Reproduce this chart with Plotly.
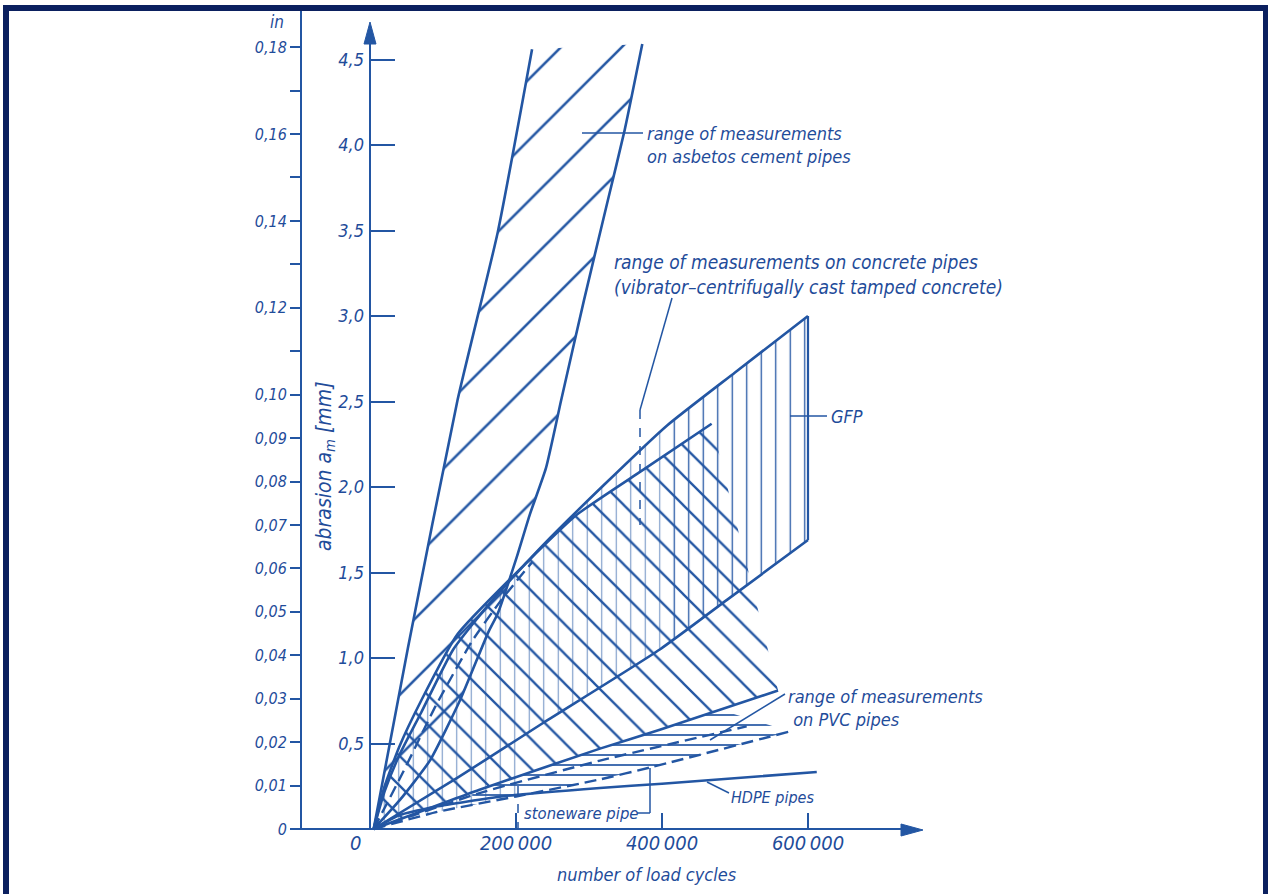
import numpy as np
import plotly.graph_objects as go

# ---------------- data (x: thousands of load cycles, y: abrasion a_m in mm) -------------
asb_left_x = [5, 52, 120, 175, 222]
asb_left_y = [0, 1.06, 2.51, 3.49, 4.56]
asb_right_x = [5, 41, 82, 123, 162, 175, 201, 219, 241, 262, 293, 326, 349, 373]
asb_right_y = [0, 0.17, 0.40, 0.75, 1.15, 1.26, 1.59, 1.84, 2.11, 2.51, 3.09, 3.68, 4.09, 4.59]

gfp_up_x = [5, 20, 40, 70, 114, 170, 237, 320, 407, 500, 600]
gfp_up_y = [0, 0.22, 0.43, 0.68, 1.05, 1.35, 1.66, 2.01, 2.36, 2.67, 3.00]
gfp_low_x = [5, 120, 237, 397, 489, 600]
gfp_low_y = [0, 0.30, 0.62, 1.05, 1.34, 1.69]

conc_up_x = [5, 20, 40, 70, 120, 215, 284, 374, 468]
conc_up_y = [0, 0.25, 0.48, 0.75, 1.14, 1.56, 1.84, 2.10, 2.37]
conc_low_x = [5, 150, 315, 397, 559]
conc_low_y = [0, 0.23, 0.47, 0.58, 0.81]
conc_dash_x = [5, 45, 90, 140, 180, 222]
conc_dash_y = [0, 0.33, 0.72, 1.10, 1.34, 1.56]

pvc_up_x = [5, 150, 315, 516]
pvc_up_y = [0, 0.21, 0.40, 0.60]
pvc_low_x = [5, 92, 200, 315, 384, 575]
pvc_low_y = [0, 0.10, 0.19, 0.29, 0.36, 0.57]

hdpe_x = [5, 40, 90, 180, 315, 400, 612]
hdpe_y = [0, 0.08, 0.13, 0.19, 0.24, 0.265, 0.333]

x_tick_vals = [0, 200, 400, 600]
x_tick_text = ["0&nbsp;&nbsp;&nbsp;&nbsp;&nbsp;", "200\u2009000", "400\u2009000", "600\u2009000"]
mm_tick_vals = [0.5, 1.0, 1.5, 2.0, 2.5, 3.0, 3.5, 4.0, 4.5]
mm_tick_text = ["0,5", "1,0", "1,5", "2,0", "2,5", "3,0", "3,5", "4,0", "4,5"]
in_tick_vals = [0, 0.01, 0.02, 0.03, 0.04, 0.05, 0.06, 0.07, 0.08, 0.09, 0.10,
                0.12, 0.14, 0.16, 0.18]
in_tick_text = ["0", "0,01", "0,02", "0,03", "0,04", "0,05", "0,06", "0,07", "0,08", "0,09",
                "0,10", "0,12", "0,14", "0,16", "0,18"]
in_minor_vals = [0.11, 0.13, 0.15, 0.17]

# ---------------- style -------------
BLUE = "#2356a3"
TEXT = "#1f4c9a"
FRAME = "#0b205f"
FONT = "Liberation Sans Narrow, DejaVu Sans Condensed, Roboto Condensed, Liberation Sans, sans-serif"
W, H = 1268, 894
X0, KX = 370, 0.73      # pixel of x=0, pixels per 1000 cycles
Y0, KY = 829, 171       # pixel of y=0, pixels per mm
x_range = [(0 - X0) / KX, (W - X0) / KX]
y_range = [(Y0 - H) / KY, Y0 / KY]


def dx(px):
    return (px - X0) / KX


def dy(py):
    return (Y0 - py) / KY


def seg(xs, ys, lo, hi):
    """part of a boundary between lo and hi (x), with end points on the curve"""
    xs = np.asarray(xs, float)
    ys = np.asarray(ys, float)
    inner = (xs > lo) & (xs < hi)
    px = np.concatenate([[lo], xs[inner], [hi]])
    py = np.interp(px, xs, ys)
    return list(px), list(py)


def region(ux, uy, lx, ly):
    return list(ux) + list(lx)[::-1], list(uy) + list(ly)[::-1]


fig = go.Figure()


def hatch(x, y, shape, size, solidity, opacity=1.0):
    fig.add_trace(go.Scatter(
        x=x, y=y, mode="lines", fill="toself", line=dict(width=0),
        fillcolor="rgba(0,0,0,0)",
        fillpattern=dict(shape=shape, size=size, solidity=solidity, fgcolor=BLUE,
                         bgcolor="rgba(0,0,0,0)", fgopacity=opacity),
        hoverinfo="skip", showlegend=False))


# asbestos cement: "/" hatch
hatch(*region(asb_left_x, asb_left_y, asb_right_x, asb_right_y), "/", 43, 0.06)
# concrete (tamped): "\" hatch
hatch(*region(conc_up_x, conc_up_y, conc_low_x, conc_low_y), "\\", 21, 0.11)
# vibrator / centrifugally cast concrete part: light vertical hatch
ux, uy = seg(gfp_up_x, gfp_up_y, 5, 407)
mx, my = seg(gfp_low_x, gfp_low_y, 200, 407)
lx, ly = seg(pvc_low_x, pvc_low_y, 5, 200)
hatch(ux + mx[::-1] + lx[::-1], uy + my[::-1] + ly[::-1], "|", 14.5, 0.08, 0.6)
# GFP: vertical hatch
ux, uy = seg(gfp_up_x, gfp_up_y, 407, 600)
lx, ly = seg(gfp_low_x, gfp_low_y, 407, 600)
hatch(*region(ux, uy, lx, ly), "|", 14.5, 0.09)
# PVC: horizontal hatch
ux, uy = seg(conc_low_x, conc_low_y, 140, 480)
lx, ly = seg(pvc_low_x, pvc_low_y, 140, 575)
hatch(*region(ux, uy, lx, ly), "-", 10, 0.17)


def curve(x, y, width=2.6, dash="solid"):
    fig.add_trace(go.Scatter(x=x, y=y, mode="lines", line=dict(color=BLUE, width=width, dash=dash,
                                                                shape="spline", smoothing=0.5),
                             hoverinfo="skip", showlegend=False))


curve(asb_left_x, asb_left_y)
curve(asb_right_x, asb_right_y)
curve(gfp_up_x, gfp_up_y)
curve(gfp_low_x, gfp_low_y)
curve([gfp_up_x[-1], gfp_low_x[-1]], [gfp_up_y[-1], gfp_low_y[-1]], width=2.2)
curve(conc_up_x, conc_up_y)
curve(conc_low_x, conc_low_y)
curve(conc_dash_x, conc_dash_y, width=2.4, dash="12px,6px")
curve(pvc_up_x, pvc_up_y, width=2.4, dash="12px,6px")
curve(pvc_low_x, pvc_low_y, width=2.4, dash="12px,6px")
curve(hdpe_x, hdpe_y, width=2.6)

fig.update_layout(
    width=W, height=H, margin=dict(l=0, r=0, t=0, b=0),
    plot_bgcolor="white", paper_bgcolor="white", showlegend=False,
    xaxis=dict(domain=[0, 1], range=x_range, showgrid=False, zeroline=False, showline=False,
               anchor="free", position=(H - Y0) / H,
               tickvals=x_tick_vals, ticktext=["<i>%s</i>" % t for t in x_tick_text],
               ticks="inside", ticklen=16, tickwidth=1.6, tickcolor=BLUE,
               tickfont=dict(family=FONT, size=20, color=TEXT)),
    yaxis=dict(domain=[0, 1], range=y_range, showgrid=False, zeroline=False, showline=False,
               anchor="free", position=X0 / W, ticklabelstandoff=6,
               tickvals=mm_tick_vals, ticktext=["<i>%s</i>" % t for t in mm_tick_text],
               ticks="inside", ticklen=24, tickwidth=1.8, tickcolor=BLUE,
               tickfont=dict(family=FONT, size=18, color=TEXT)),
    yaxis2=dict(overlaying="y", range=[y_range[0] / 25.4, y_range[1] / 25.4],
                showgrid=False, zeroline=False, showline=False,
                anchor="free", position=301 / W, side="left",
                tickvals=in_tick_vals, ticktext=["<i>%s</i>" % t for t in in_tick_text],
                ticks="outside", ticklen=11, tickwidth=1.6, tickcolor=BLUE,
                minor=dict(tickvals=in_minor_vals, ticks="outside", ticklen=11, tickwidth=1.6,
                           tickcolor=BLUE, showgrid=False),
                tickfont=dict(family=FONT, size=16, color=TEXT)),
)
fig.add_trace(go.Scatter(x=[None], y=[None], yaxis="y2", showlegend=False, hoverinfo="skip"))

# axis lines with filled arrow heads (decoration, placed in pixels)
fig.add_shape(type="line", xref="x", yref="y", x0=0, x1=0, y0=0, y1=dy(40),
              line=dict(color=BLUE, width=2))
fig.add_shape(type="path", xref="x", yref="y", fillcolor=BLUE, line=dict(color=BLUE, width=1),
              path="M %f,%f L %f,%f L %f,%f Z" % (dx(370), dy(22), dx(364), dy(44), dx(376), dy(44)))
fig.add_shape(type="line", xref="x", yref="y", x0=dx(290), x1=dx(905), y0=0, y1=0,
              line=dict(color=BLUE, width=2))
fig.add_shape(type="path", xref="x", yref="y", fillcolor=BLUE, line=dict(color=BLUE, width=1),
              path="M %f,%f L %f,%f L %f,%f Z" % (dx(923), dy(830), dx(901), dy(824), dx(901), dy(836)))
fig.add_shape(type="line", xref="paper", yref="y", x0=301 / W, x1=301 / W, y0=0, y1=dy(10),
              line=dict(color=BLUE, width=2))
# frame
fig.add_shape(type="rect", xref="paper", yref="paper", x0=6 / W, x1=1266 / W, y0=-0.05,
              y1=(H - 8) / H, line=dict(color=FRAME, width=6))


def note(txt, x, y, size=18, xanchor="left", yanchor="middle", align="left", angle=0):
    fig.add_annotation(x=x, y=y, xref="x", yref="y", text=txt, showarrow=False,
                       xanchor=xanchor, yanchor=yanchor, align=align, textangle=angle,
                       font=dict(family=FONT, size=size, color=TEXT))


def leader(x0, y0, x1, y1, dash="solid"):
    fig.add_shape(type="line", xref="x", yref="y", x0=x0, y0=y0, x1=x1, y1=y1,
                  line=dict(color=BLUE, width=1.5, dash=dash))


note("<i>range of measurements<br>on asbetos cement pipes</i>", dx(645), dy(145))
leader(dx(582), dy(133), dx(643), dy(133))
note("<i>range of measurements on concrete pipes<br>(vibrator–centrifugally cast tamped concrete)</i>",
     dx(612), dy(274), size=19)
leader(dx(672), dy(298), dx(640), dy(410))
leader(dx(640), dy(410), dx(640), dy(525), dash="dash")
note("<i>GFP</i>", dx(829), dy(416))
leader(dx(790), dy(416), dx(827), dy(416))
note("<i>range of measurements<br>&nbsp;on PVC pipes</i>", dx(786), dy(708))
leader(dx(785), dy(694), dx(710), dy(740))
note("<i>HDPE pipes</i>", dx(729), dy(797), size=16)
leader(dx(707), dy(782), dx(729), dy(793))
note("<i>stoneware pipe</i>", dx(522), dy(813), size=16.5)
leader(dx(637), dy(813), dx(650), dy(813))
leader(dx(650), dy(813), dx(650), dy(768))
leader(dx(518), dy(786), dx(518), dy(829), dash="dash")
note("<i>number of load cycles</i>", dx(647), dy(874), size=18, xanchor="center")
note("<i>abrasion a<sub>m</sub> [mm]</i>", dx(325), dy(466), size=21, xanchor="center", angle=-90)
note("<i>in</i>", dx(277), dy(22), size=17, xanchor="center")

fig.write_html("out.html", config={"displayModeBar": False},
               post_script="document.body.style.margin='0px';")
